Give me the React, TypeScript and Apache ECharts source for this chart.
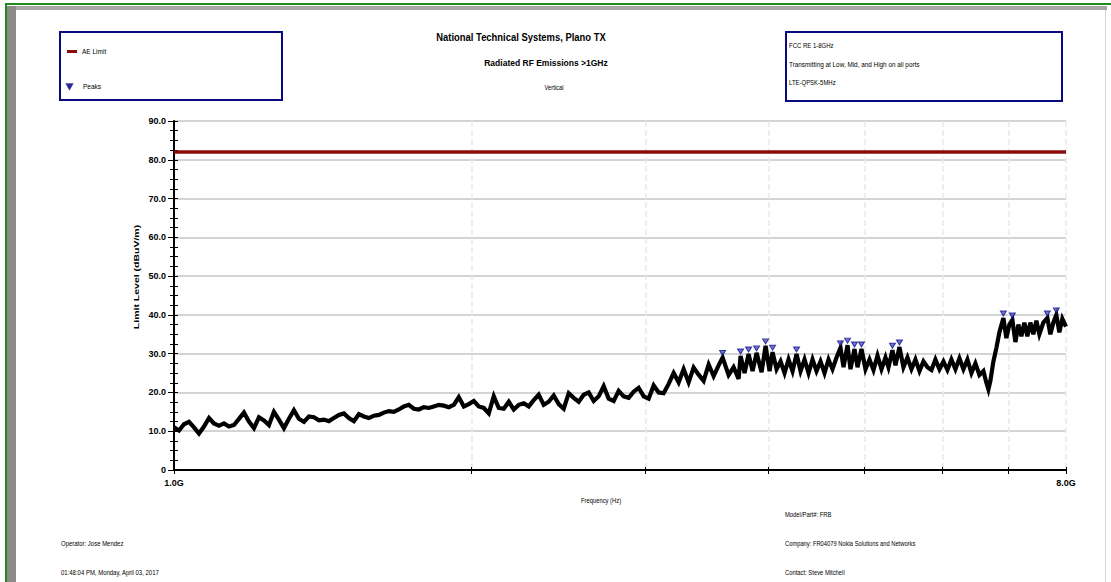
import React, { useEffect, useRef } from "react";
import * as echarts from "echarts";

// ---- data (frequency in MHz, level in dBuV/m) ----
const traceFreqMHz = [
  1000, 1011.7, 1023.6, 1035.6, 1047.7, 1060.0, 1072.4, 1085.0, 1097.7, 1110.6,
  1123.5, 1136.7, 1150.0, 1163.5, 1177.1, 1190.9, 1204.9, 1219.0, 1233.3, 1247.8,
  1262.3, 1277.1, 1292.1, 1307.3, 1322.5, 1338.0, 1353.7, 1369.6, 1385.6, 1401.8,
  1418.3, 1434.9, 1451.7, 1468.7, 1485.9, 1503.3, 1520.9, 1538.7, 1556.8, 1575.1,
  1593.5, 1612.2, 1631.0, 1650.1, 1669.5, 1689.1, 1708.8, 1728.8, 1749.1, 1769.6,
  1790.3, 1811.3, 1832.5, 1854.0, 1875.7, 1897.7, 1919.9, 1942.4, 1965.2, 1988.3,
  2011.5, 2035.1, 2058.9, 2083.1, 2107.4, 2132.1, 2157.1, 2182.4, 2207.9, 2233.8,
  2260.0, 2286.5, 2313.2, 2340.3, 2367.7, 2395.5, 2423.5, 2451.9, 2480.7, 2509.8,
  2539.1, 2568.9, 2599.0, 2629.5, 2660.2, 2691.4, 2722.9, 2754.8, 2787.1, 2819.8,
  2852.8, 2886.3, 2920.0, 2954.3, 2988.8, 3023.9, 3059.3, 3095.2, 3131.4, 3168.1,
  3205.2, 3242.8, 3280.7, 3319.2, 3358.0, 3397.4, 3437.2, 3477.5, 3518.2, 3559.5,
  3592.7, 3643.3, 3686.0, 3729.2, 3746.5, 3781.6, 3817.0, 3852.7, 3888.8, 3934.4,
  3971.3, 4008.5, 4036.5, 4074.3, 4112.4, 4151.0, 4189.9, 4229.0, 4268.6, 4308.6,
  4348.9, 4389.7, 4430.7, 4472.2, 4514.0, 4556.3, 4599.0, 4642.0, 4685.5, 4729.3,
  4762.5, 4807.1, 4840.7, 4886.1, 4920.4, 4966.4, 5012.9, 5059.9, 5107.2, 5155.1,
  5203.2, 5251.9, 5288.8, 5338.2, 5375.7, 5426.1, 5476.8, 5528.1, 5579.8, 5632.1,
  5684.9, 5738.0, 5791.8, 5846.0, 5900.7, 5956.0, 6011.7, 6068.0, 6124.8, 6182.2,
  6240.1, 6298.4, 6357.4, 6416.8, 6476.9, 6537.6, 6598.8, 6645.1, 6676.2, 6707.2,
  6754.3, 6801.7, 6849.4, 6913.5, 6962.0, 7010.9, 7059.9, 7109.5, 7159.4, 7209.5,
  7260.1, 7311.1, 7362.4, 7413.9, 7465.9, 7518.3, 7588.6, 7659.7, 7713.5, 7767.4,
  7821.9, 7876.8, 7932.0, 8000,
];
const traceLevelDb = [
  11.0, 10.2, 11.8, 12.4, 11.0, 9.4, 11.2, 13.4, 12.0, 11.4,
  12.0, 11.2, 11.6, 13.2, 14.8, 12.5, 10.8, 13.6, 12.8, 11.6,
  15.0, 13.0, 10.8, 13.2, 15.4, 13.2, 12.4, 13.8, 13.6, 12.8,
  13.0, 12.6, 13.4, 14.2, 14.6, 13.4, 12.6, 14.4, 13.8, 13.4,
  14.0, 14.2, 14.8, 15.2, 15.0, 15.6, 16.4, 16.8, 15.8, 15.6,
  16.2, 16.0, 16.4, 16.8, 16.6, 16.2, 16.8, 18.8, 16.4, 17.0,
  17.8, 16.4, 16.0, 14.6, 19.0, 16.0, 15.8, 17.6, 15.6, 16.8,
  17.2, 16.4, 18.0, 19.4, 16.8, 17.6, 19.2, 17.0, 15.8, 19.8,
  18.6, 17.6, 19.4, 20.0, 17.8, 19.0, 21.6, 18.4, 17.8, 20.4,
  19.0, 18.6, 20.2, 21.2, 19.0, 18.4, 21.8, 20.0, 19.8, 22.2,
  25.0, 22.6, 26.0, 22.6, 26.4, 24.6, 23.0, 27.2, 24.2, 27.0,
  29.0, 24.5, 26.5, 23.5, 29.4, 25.0, 29.9, 25.5, 30.2, 25.2,
  32.0, 25.5, 30.4, 26.0, 28.0, 25.0, 28.5, 25.5, 29.9, 25.5,
  28.5, 25.0, 28.5, 25.5, 28.0, 25.0, 28.5, 26.0, 29.0, 31.5,
  26.5, 32.2, 26.0, 31.2, 26.5, 31.2, 26.0, 28.5, 25.8, 29.5,
  26.0, 29.0, 26.5, 30.9, 27.0, 31.7, 26.5, 29.0, 26.0, 28.5,
  25.5, 28.0, 26.5, 25.8, 28.5, 26.0, 28.0, 25.8, 28.5, 26.0,
  28.8, 26.0, 28.5, 25.0, 27.5, 24.5, 25.5, 22.5, 20.8, 23.0,
  28.0, 31.5, 35.5, 39.2, 34.0, 37.5, 38.7, 33.0, 37.5, 34.5,
  38.0, 34.5, 38.0, 35.0, 38.5, 35.0, 38.0, 39.2, 35.0, 38.0,
  40.0, 35.5, 39.0, 37.0,
];
const peakFreqMHz = [
  3592.7, 3746.5, 3817.0, 3888.8, 3971.3, 4036.5, 4268.6, 4729.3, 4807.1,
  4886.1, 4966.4, 5338.2, 5426.1, 6913.5, 7059.9, 7659.7, 7821.9,
];
const peakLevelDb = [
  29.0, 29.4, 29.9, 30.2, 32.0, 30.4, 29.9, 31.5, 32.2,
  31.2, 31.2, 30.9, 31.7, 39.2, 38.7, 39.2, 40.0,
];
const limitFreqMHz = [1000, 8000];
const limitLevelDb = [82, 82];
const xGridMHz = [1000, 2000, 3000, 4000, 5000, 6000, 7000, 8000];
const xLabelMHz = [1000, 8000];
const xLabelText = ["1.0G", "8.0G"];

const headerLines = ["National Technical Systems, Plano TX", "Radiated RF Emissions >1GHz", "Vertical"];
const infoLines = ["FCC RE 1-8GHz", "Transmitting at Low, Mid, and High on all ports", "LTE-QPSK-5MHz"];
const footerLeft = ["Operator: Jose Mendez", "01:48:04 PM, Monday, April 03, 2017"];
const footerRight = ["Model/Part#: FRB", "Company: FR04079 Nokia Solutions and Networks", "Contact: Steve Mitchell"];

const SANS = "'Liberation Sans', Arial, sans-serif";

function txt(text: string, x: number, y: number, align = "left", size = 6.5, weight = "normal", scaleX = 1) {
  return {
    type: "text",
    x,
    y,
    scaleX,
    silent: true,
    style: { text, fill: "#000", fontSize: size, fontWeight: weight, fontFamily: SANS, align, verticalAlign: "middle" },
  };
}

export default function App() {
  const ref = useRef<HTMLDivElement>(null);
  useEffect(() => {
    const chart = echarts.init(ref.current!, null, { renderer: "svg" });
    const trace = traceFreqMHz.map((f, i) => [f, traceLevelDb[i]]);
    const peaks = peakFreqMHz.map((f, i) => [f, peakLevelDb[i]]);
    const limit = limitFreqMHz.map((f, i) => [f, limitLevelDb[i]]);

    chart.setOption({
      animation: false,
      backgroundColor: "#ffffff",
      grid: { left: 174, right: 45, top: 121, bottom: 112 },
      legend: [
        {
          orient: "vertical",
          left: 67,
          top: 48,
          padding: 0,
          itemWidth: 10,
          itemHeight: 3,
          textStyle: { fontSize: 6.5, fontFamily: SANS, color: "#000" },
          data: [{ name: "AE Limit", icon: "rect" }],
        },
        {
          orient: "vertical",
          left: 66,
          top: 83,
          padding: 0,
          itemWidth: 5,
          itemHeight: 5,
          textStyle: { fontSize: 6.5, fontFamily: SANS, color: "#000", padding: [0, 0, 0, 6] },
          data: [{ name: "Peaks", icon: "path://M0,0H10L5,9Z", itemStyle: { color: "#1a1a9a" } }],
        },
      ],
      xAxis: [
        {
          type: "log",
          logBase: 10,
          min: 1000,
          max: 8000,
          axisLine: { show: true, lineStyle: { color: "#000", width: 2 } },
          axisTick: { show: true, length: 4, customValues: xGridMHz, lineStyle: { color: "#000" } },
          axisLabel: {
            customValues: xLabelMHz,
            margin: 8,
            fontSize: 9,
            fontWeight: "bold",
            fontFamily: SANS,
            color: "#000",
            formatter: (v: number) => {
              const idx = xLabelMHz.findIndex((m) => Math.abs(m - v) < 1);
              return idx >= 0 ? xLabelText[idx] : "";
            },
          },
          splitLine: { show: true, lineStyle: { color: "#e9e9e9", width: 1.5, type: "dashed" } },
        },
        {
          type: "log",
          logBase: 10,
          min: 1000,
          max: 8000,
          position: "bottom",
          axisLine: { show: false },
          axisTick: { show: true, inside: true, length: 3, customValues: xGridMHz, lineStyle: { color: "#000" } },
          axisLabel: { show: false },
          splitLine: { show: false },
        },
      ],
      yAxis: [
        {
          type: "value",
          min: 0,
          max: 90,
          interval: 10,
          position: "left",
          axisLine: { show: true, lineStyle: { color: "#000", width: 2 } },
          axisTick: { show: true, length: 6, lineStyle: { color: "#000" } },
          minorTick: { show: true, splitNumber: 4, length: 4, lineStyle: { color: "#000" } },
          axisLabel: {
            margin: 8,
            fontSize: 9,
            fontWeight: "bold",
            fontFamily: SANS,
            color: "#000",
            formatter: (v: number) => (v === 0 ? "0" : v.toFixed(1)),
          },
          splitLine: { show: true, lineStyle: { color: "#c6c6c6", width: 1.5 } },
        },
        {
          type: "value",
          min: 0,
          max: 90,
          interval: 10,
          position: "left",
          axisLine: { show: false },
          axisTick: { show: true, inside: true, length: 4, lineStyle: { color: "#000" } },
          minorTick: { show: true, splitNumber: 4, length: 4, lineStyle: { color: "#000" } },
          axisLabel: { show: false },
          splitLine: { show: false },
        },
      ],
      series: [
        {
          name: "AE Limit",
          type: "line",
          data: limit,
          symbol: "none",
          color: "#8b0a0a",
          lineStyle: { color: "#8b0a0a", width: 3.5 },
          z: 3,
        },
        {
          name: "Trace",
          type: "line",
          data: trace,
          symbol: "none",
          color: "#000",
          lineStyle: { color: "#000", width: 4.2, join: "miter" },
          z: 2,
        },
        {
          name: "Peaks",
          type: "scatter",
          data: peaks,
          symbol: "triangle",
          symbolRotate: 180,
          symbolSize: [6, 5],
          symbolOffset: [0, -4.5],
          color: "#1a1a9a",
          itemStyle: { color: "#5050c4", borderColor: "#10108a", borderWidth: 1 },
          z: 4,
        },
      ],
      graphic: [
        // frame
        { type: "rect", shape: { x: 5, y: 3, width: 1106, height: 2 }, style: { fill: "#1f8a1f" }, silent: true },
        { type: "rect", shape: { x: 5, y: 3, width: 2, height: 579 }, style: { fill: "#1f8a1f" }, silent: true },
        { type: "rect", shape: { x: 7, y: 6, width: 1100, height: 4 }, style: { fill: "#a6a6a6" }, silent: true },
        { type: "rect", shape: { x: 7, y: 6, width: 9, height: 576 }, style: { fill: "#8a8a8a" }, silent: true },
        { type: "rect", shape: { x: 1105, y: 10, width: 1, height: 572 }, style: { fill: "#d4d4d4" }, silent: true },
        // legend box
        { type: "rect", shape: { x: 60, y: 32, width: 222, height: 68 }, style: { fill: "none", stroke: "#0a0a80", lineWidth: 2 }, silent: true },
        // info box
        { type: "rect", shape: { x: 786, y: 32, width: 276, height: 69 }, style: { fill: "none", stroke: "#0a0a80", lineWidth: 2 }, silent: true },
        txt(infoLines[0], 789, 45, "left", 6.5, "normal", 0.92),
        txt(infoLines[1], 789, 64, "left", 6.5, "normal", 0.98),
        txt(infoLines[2], 789, 82, "left", 6.5, "normal", 0.92),
        // header
        txt(headerLines[0], 521, 37, "center", 11.5, "bold", 0.82),
        txt(headerLines[1], 546, 63, "center", 8.5, "bold"),
        txt(headerLines[2], 554, 87, "center", 6.5, "normal", 0.9),
        // y axis name
        {
          type: "text",
          x: 137,
          y: 277,
          rotation: Math.PI / 2,
          scaleX: 1.4,
          silent: true,
          style: { text: "Limit Level (dBuV/m)", fill: "#000", fontSize: 7.5, fontWeight: "bold", fontFamily: SANS, align: "center", verticalAlign: "middle" },
        },
        // footer
        txt("Frequency (Hz)", 601, 500, "center", 6.5, "normal", 0.9),
        txt(footerRight[0], 785, 514, "left", 6.5, "normal", 0.9),
        txt(footerLeft[0], 61, 543, "left", 6.5, "normal", 0.92),
        txt(footerRight[1], 785, 543, "left", 6.5, "normal", 0.89),
        txt(footerLeft[1], 61, 572, "left", 6.5, "normal", 0.92),
        txt(footerRight[2], 785, 572, "left", 6.5, "normal", 0.9),
      ],
    });
    return () => chart.dispose();
  }, []);
  return (
    <div
      ref={ref}
      style={{ position: "absolute", left: 0, top: 0, width: 1111, height: 582, background: "#fff" }}
    />
  );
}
